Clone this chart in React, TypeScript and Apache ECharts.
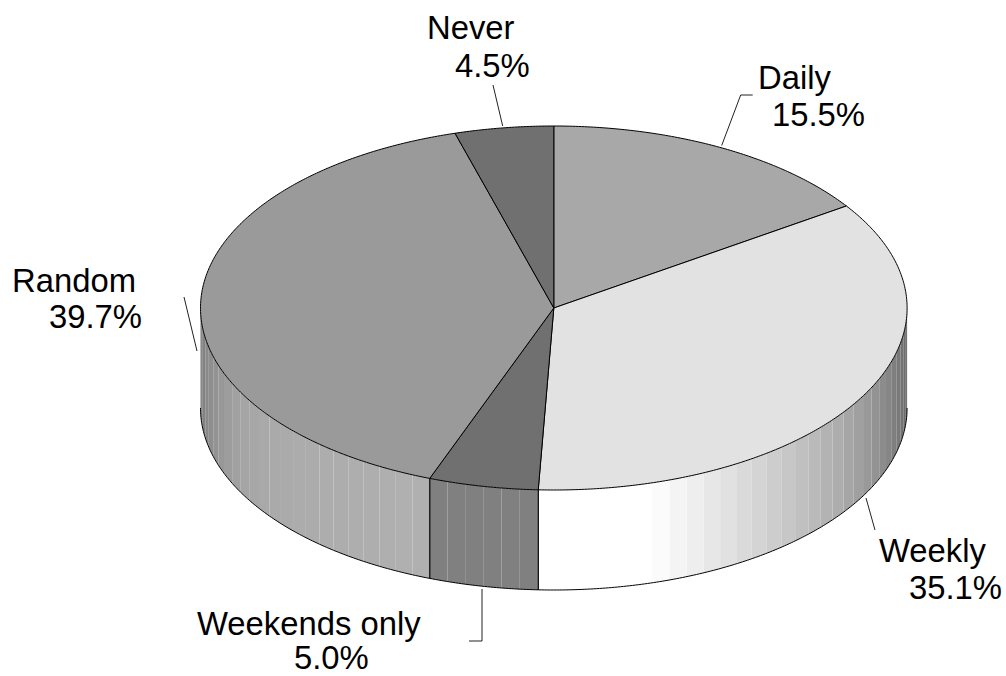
import React, { useEffect, useRef } from "react";
import * as echarts from "echarts";

// Data
const categories = ["Daily", "Weekly", "Weekends only", "Random", "Never"];
const shares = [15.5, 35.1, 5.0, 39.7, 4.5];
const topGreys = [168, 226, 112, 154, 112];

// Layout of the tilted pie
const CX = 553.8;
const CY = 308;
const RX = 353.3;
const RY = 182;
const DEPTH = 100;
const BAND_DEG = 3;
const FONT = "'Liberation Sans', Arial, sans-serif";
const FONT_SIZE = 32.8;

// Wall lighting: [degrees from the front of the pie, right side positive; factor on the slice grey]
const lightStops: number[][] = [
  [-90, 0.72], [-80, 0.88], [-70, 0.99], [-60, 1.08], [-50, 1.11], [-25, 1.14],
  [14.6, 1.14], [20.6, 1.08], [88.6, 0.43], [90, 0.41],
];

// Label text anchors [left x, baseline y] for name and percentage
const labelAnchors: number[][][] = [
  [[758, 89], [772, 126]],
  [[879, 562], [909, 599]],
  [[197, 635], [294, 669]],
  [[12, 292], [49, 328]],
  [[427, 39], [455, 77]],
];

// Leader lines
const leaders: number[][][] = [
  [[721.7, 145.5], [740.7, 95], [752.7, 95]],
  [[866, 498], [875, 530]],
  [[482, 589], [482, 641], [469, 641]],
  [[184, 297], [197, 351]],
  [[493, 85], [502.7, 126]],
];

const pt = (deg: number, dy = 0): number[] => {
  const a = (deg * Math.PI) / 180;
  return [CX + RX * Math.sin(a), CY - RY * Math.cos(a) + dy];
};

const arc = (from: number, to: number, dy = 0): number[][] => {
  const out: number[][] = [];
  const n = Math.max(2, Math.ceil(Math.abs(to - from) / 0.5));
  for (let i = 0; i <= n; i++) out.push(pt(from + ((to - from) * i) / n, dy));
  return out;
};

const light = (phi: number): number => {
  for (let i = 1; i < lightStops.length; i++) {
    const [p0, f0] = lightStops[i - 1];
    const [p1, f1] = lightStops[i];
    if (phi <= p1) return f0 + ((f1 - f0) * (phi - p0)) / (p1 - p0);
  }
  return lightStops[lightStops.length - 1][1];
};

const grey = (v: number): string => {
  const c = Math.max(0, Math.min(255, Math.round(v)));
  return `rgb(${c},${c},${c})`;
};

const startOf = (index: number): number => {
  const total = shares.reduce((s, v) => s + v, 0);
  return (shares.slice(0, index).reduce((s, v) => s + v, 0) / total) * 360;
};

const sweepOf = (value: number): number =>
  (value / shares.reduce((s, v) => s + v, 0)) * 360;

const renderWall = (params: any, api: any) => {
  const i = params.dataIndex;
  const start = startOf(i);
  const end = start + sweepOf(api.value(0));
  const children: any[] = [];
  for (let t = start; t < end - 1e-6; t += BAND_DEG) {
    const a = Math.max(t, 90);
    const b = Math.min(t + BAND_DEG, end, 270);
    if (b <= a) continue;
    const phi = 180 - (t + Math.min(t + BAND_DEG, end)) / 2;
    children.push({
      type: "polygon",
      shape: { points: [...arc(a, b), ...arc(b, a, DEPTH)] },
      style: { fill: grey(topGreys[i] * light(phi)), stroke: "none" },
      silent: true,
    });
  }
  const a = Math.max(start, 90);
  const b = Math.min(end, 270);
  if (b > a) {
    children.push({
      type: "polyline",
      shape: { points: arc(a, b, DEPTH) },
      style: { fill: "none", stroke: "#000", lineWidth: 1 },
      silent: true,
    });
    [start, end].forEach((t) => {
      if (t > 90 && t < 270) {
        children.push({
          type: "line",
          shape: { x1: pt(t)[0], y1: pt(t)[1], x2: pt(t)[0], y2: pt(t, DEPTH)[1] },
          style: { stroke: "#000", lineWidth: 1 },
          silent: true,
        });
      }
    });
  }
  return { type: "group", children };
};

const renderTop = (params: any, api: any) => {
  const i = params.dataIndex;
  const start = startOf(i);
  const end = start + sweepOf(api.value(0));
  return {
    type: "polygon",
    shape: { points: [[CX, CY], ...arc(start, end)] },
    style: { fill: grey(topGreys[i]), stroke: "#000", lineWidth: 1, lineJoin: "round" },
    silent: true,
  };
};

const renderLabel = (params: any, api: any) => {
  const i = params.dataIndex;
  const [nameAt, pctAt] = labelAnchors[i];
  const textStyle = {
    font: `${FONT_SIZE}px ${FONT}`,
    fill: "#000",
    align: "left",
    verticalAlign: "bottom",
  };
  const descent = 5;
  return {
    type: "group",
    silent: true,
    children: [
      {
        type: "polyline",
        shape: { points: leaders[i] },
        style: { fill: "none", stroke: "#222", lineWidth: 1 },
      },
      {
        type: "text",
        x: nameAt[0],
        y: nameAt[1] + descent,
        style: { ...textStyle, text: categories[i] },
      },
      {
        type: "text",
        x: pctAt[0],
        y: pctAt[1] + descent,
        style: { ...textStyle, text: `${api.value(0).toFixed(1)}%` },
      },
    ],
  };
};

export default function App() {
  const ref = useRef<HTMLDivElement>(null);
  useEffect(() => {
    document.body.style.margin = "0";
    const chart = echarts.init(ref.current!, null, { renderer: "svg" });
    const data = shares.map((v, i) => ({ name: categories[i], value: [v] }));
    chart.setOption({
      animation: false,
      backgroundColor: "#fff",
      series: [
        { type: "custom", coordinateSystem: "none", renderItem: renderWall, data, silent: true, z: 1 },
        { type: "custom", coordinateSystem: "none", renderItem: renderTop, data, silent: true, z: 2 },
        { type: "custom", coordinateSystem: "none", renderItem: renderLabel, data, silent: true, z: 3 },
      ],
    });
    return () => chart.dispose();
  }, []);
  return <div ref={ref} style={{ width: 1006, height: 676 }} />;
}
